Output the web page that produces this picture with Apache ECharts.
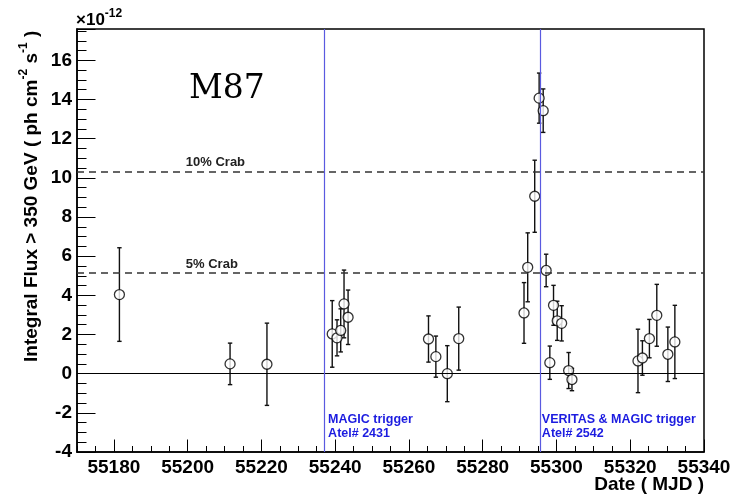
<!DOCTYPE html>
<html>
<head>
<meta charset="utf-8">
<script src="https://cdn.jsdelivr.net/npm/echarts@6/dist/echarts.min.js"></script>
<style>
  html, body { margin: 0; padding: 0; background: #fff; }
  #chart { width: 739px; height: 496px; }
</style>
</head>
<body>
<div id="chart"></div>
<script>
// M87 light curve: integral flux above 350 GeV per night (units of 1e-12 ph cm^-2 s^-1)
const mjd = [55181.5, 55211.5, 55221.5, 55239.2, 55240.5, 55241.5, 55242.4, 55243.5,
             55265.3, 55267.3, 55270.4, 55273.5, 55291.2, 55292.2, 55294.1, 55295.3,
             55296.4, 55297.2, 55298.2, 55299.2, 55300.2, 55301.4, 55303.3, 55304.2,
             55322.1, 55323.3, 55325.2, 55327.2, 55330.2, 55332.1];
const flux = [4.04, 0.50, 0.48, 2.03, 1.83, 2.21, 3.56, 2.88,
              1.77, 0.87, 0.00, 1.79, 3.10, 5.43, 9.06, 14.07,
              13.43, 5.27, 0.56, 3.49, 2.70, 2.57, 0.16, -0.30,
              0.65, 0.80, 1.79, 2.98, 0.99, 1.62];
const fluxErr = [2.39, 1.06, 2.10, 1.70, 0.92, 1.10, 1.73, 1.39,
                 1.18, 1.05, 1.43, 1.61, 1.55, 1.76, 1.84, 1.28,
                 1.11, 0.83, 0.85, 1.02, 1.00, 0.90, 0.92, 0.57,
                 1.62, 0.88, 0.98, 1.58, 1.39, 1.87];

// Reference flux levels of the Crab Nebula
const crabLevels = [10.33, 5.16];
const crabLabels = ['10% Crab', '5% Crab'];

// Alert triggers
const triggerMJD = [55237.0, 55295.5];
const triggerTitle = ['MAGIC trigger', 'VERITAS & MAGIC trigger'];
const triggerAtel = ['Atel# 2431', 'Atel# 2542'];

// Axis ranges and tick steps
const xRange = [55170, 55340];
const xMajorFirst = 55180;
const xMajorStep = 20;
const xMinorStep = 5;
const yRange = [-4, 17.6];
const yMajorStep = 2;
const yMinorStep = 0.5;

const FONT = 'Liberation Sans';
const plot = { left: 77, right: 35, top: 29, bottom: 44 };
const plotWidth = 739 - plot.left - plot.right;
const majorLeft = plot.left + (xMajorFirst - xRange[0]) / (xRange[1] - xRange[0]) * plotWidth;

const points = mjd.map((d, i) => [d, flux[i]]);
const errData = mjd.map((d, i) => [d, flux[i] - fluxErr[i], flux[i] + fluxErr[i]]);

const chart = echarts.init(document.getElementById('chart'), null, { renderer: 'canvas' });

const option = {
  animation: false,
  backgroundColor: '#fff',
  grid: [
    { left: plot.left, right: plot.right, top: plot.top, bottom: plot.bottom,
      show: true, borderColor: '#000', borderWidth: 1.5, backgroundColor: 'transparent' },
    { left: majorLeft, right: plot.right, top: plot.top, bottom: plot.bottom, show: false }
  ],
  xAxis: [
    {
      type: 'value', gridIndex: 0, min: xRange[0], max: xRange[1], interval: xMinorStep,
      position: 'bottom',
      axisLine: { show: true, onZero: false, lineStyle: { color: '#000', width: 1.5 } },
      axisTick: { show: true, inside: true, length: 6, lineStyle: { color: '#000', width: 1 } },
      splitLine: { show: false },
      axisLabel: {
        margin: 6, color: '#000', fontFamily: FONT, fontWeight: 'bold', fontSize: 19,
        showMinLabel: true, showMaxLabel: true,
        formatter: v => ((v - xMajorFirst) % xMajorStep === 0 ? String(v) : '')
      }
    },
    {
      type: 'value', gridIndex: 1, min: xMajorFirst, max: xRange[1], interval: xMajorStep,
      position: 'bottom',
      axisLine: { show: false, onZero: false },
      axisTick: { show: true, inside: true, length: 12.5, lineStyle: { color: '#000', width: 1 } },
      axisLabel: { show: false }, splitLine: { show: false }
    }
  ],
  yAxis: [
    {
      type: 'value', gridIndex: 0, min: yRange[0], max: yRange[1], interval: yMinorStep,
      axisLine: { show: true, onZero: false, lineStyle: { color: '#000', width: 1.5 } },
      axisTick: { show: true, inside: true, length: 9.5, lineStyle: { color: '#000', width: 1 } },
      axisLabel: { show: false }, splitLine: { show: false }
    },
    {
      type: 'value', gridIndex: 0, min: yRange[0], max: yRange[1], interval: yMajorStep,
      position: 'left',
      axisLine: { show: false, onZero: false },
      axisTick: { show: true, inside: true, length: 18.5, lineStyle: { color: '#000', width: 1 } },
      splitLine: { show: false },
      axisLabel: {
        margin: 5, color: '#000', fontFamily: FONT, fontWeight: 'bold', fontSize: 19,
        formatter: v => {
          const r = Math.round(v);
          return (Math.abs(v - r) < 1e-6 && r % yMajorStep === 0) ? String(r) : '';
        }
      }
    },
    { type: 'value', gridIndex: 1, min: yRange[0], max: yRange[1], show: false }
  ],
  series: [
    {
      name: 'errors',
      type: 'custom',
      xAxisIndex: 0, yAxisIndex: 0,
      data: errData,
      z: 3,
      renderItem: (params, api) => {
        const x = api.value(0);
        const lo = api.coord([x, api.value(1)]);
        const hi = api.coord([x, api.value(2)]);
        const cap = 2.2;
        const style = { stroke: '#111', lineWidth: 1.4 };
        return {
          type: 'group',
          children: [
            { type: 'line', shape: { x1: lo[0], y1: lo[1], x2: hi[0], y2: hi[1] }, style },
            { type: 'line', shape: { x1: lo[0] - cap, y1: lo[1], x2: lo[0] + cap, y2: lo[1] }, style },
            { type: 'line', shape: { x1: hi[0] - cap, y1: hi[1], x2: hi[0] + cap, y2: hi[1] }, style }
          ]
        };
      }
    },
    {
      name: 'flux',
      type: 'scatter',
      xAxisIndex: 0, yAxisIndex: 0,
      data: points,
      symbol: 'circle',
      symbolSize: 10,
      z: 4,
      itemStyle: { color: '#fff', borderColor: '#000', borderWidth: 1.3 },
      markLine: {
        silent: true, symbol: 'none', animation: false,
        label: { show: false },
        data: [
          ...crabLevels.map(v => ({ yAxis: v, lineStyle: { type: [7, 5], color: '#333', width: 1.6 } })),
          { yAxis: 0, lineStyle: { type: 'solid', color: '#000', width: 1.2 } },
          ...triggerMJD.map(d => ({ xAxis: d, lineStyle: { type: 'solid', color: '#5a5ae0', width: 1.2 } }))
        ]
      }
    }
  ]
};

chart.setOption(option);

// Text annotations anchored to the data coordinates
const graphics = [];
const px = (x, y) => chart.convertToPixel({ gridIndex: 0 }, [x, y]);

crabLevels.forEach((v, i) => {
  const p = px(55199.5, v);
  graphics.push({
    type: 'text', left: p[0], top: p[1] - 15,
    style: { text: crabLabels[i], fontFamily: FONT, fontWeight: 'bold', fontSize: 13, fill: '#222' }
  });
});

triggerMJD.forEach((d, i) => {
  const p = px(d, yRange[0]);
  const dx = i === 0 ? 4 : 2;
  graphics.push({
    type: 'text', left: p[0] + dx, top: 413,
    style: { text: triggerTitle[i], fontFamily: FONT, fontWeight: 'bold', fontSize: 12.5, fill: '#1c1ce0' }
  });
  graphics.push({
    type: 'text', left: p[0] + dx, top: 427,
    style: { text: triggerAtel[i], fontFamily: FONT, fontWeight: 'bold', fontSize: 12.5, fill: '#1c1ce0' }
  });
});

// Source name
graphics.push({
  type: 'text', left: 189, top: 73,
  style: { text: 'M87', fontFamily: 'DejaVu Serif', fontSize: 33, fill: '#000' }
});

// Exponent of the flux axis
graphics.push({
  type: 'text', left: 76, top: 8,
  style: {
    text: '{b|×10}{s|-12}',
    rich: {
      b: { fontFamily: FONT, fontWeight: 'bold', fontSize: 17, fill: '#000', verticalAlign: 'bottom', lineHeight: 21 },
      s: { fontFamily: FONT, fontWeight: 'bold', fontSize: 12, fill: '#000', verticalAlign: 'top', lineHeight: 21 }
    }
  }
});

// Flux axis title (reads bottom to top)
graphics.push({
  type: 'text', x: 18, y: 362, rotation: Math.PI / 2,
  style: {
    text: '{b|Integral Flux > 350 GeV ( ph cm}{s|-2}{b| s}{s|-1}{b| )}',
    align: 'left', verticalAlign: 'top',
    rich: {
      b: { fontFamily: FONT, fontWeight: 'bold', fontSize: 19, fill: '#000', verticalAlign: 'bottom', lineHeight: 23 },
      s: { fontFamily: FONT, fontWeight: 'bold', fontSize: 12, fill: '#000', verticalAlign: 'top', lineHeight: 23 }
    }
  }
});

// Time axis title
graphics.push({
  type: 'text', right: 35, top: 475,
  style: { text: 'Date ( MJD )', fontFamily: FONT, fontWeight: 'bold', fontSize: 19, fill: '#000' }
});

chart.setOption({ graphic: graphics });
</script>
</body>
</html>
